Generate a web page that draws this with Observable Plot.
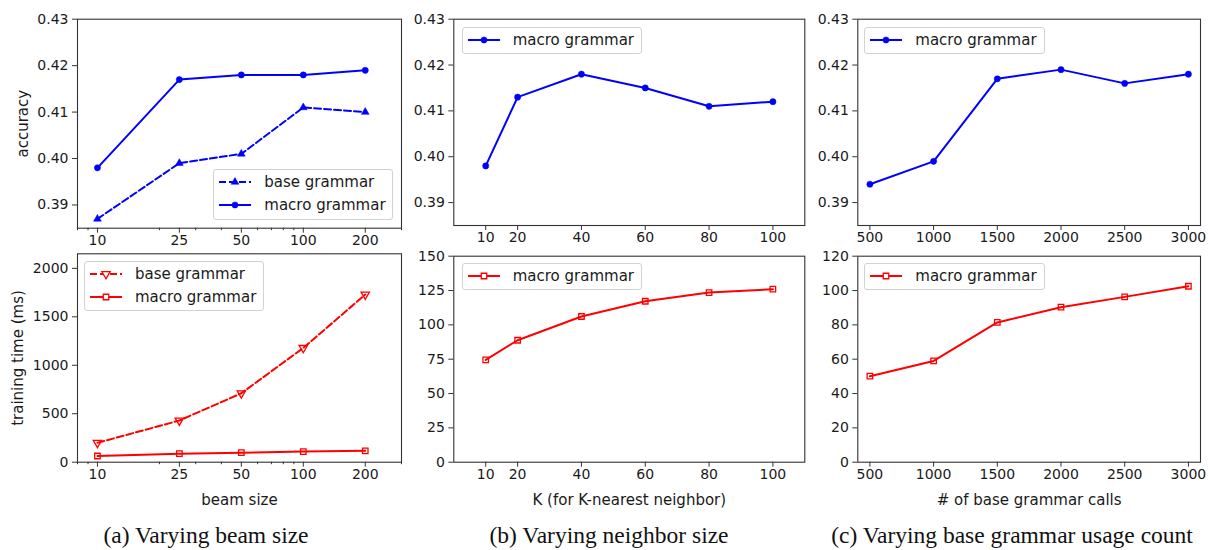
<!DOCTYPE html>
<html><head><meta charset="utf-8">
<script src="https://cdn.jsdelivr.net/npm/d3@7"></script>
<script src="https://cdn.jsdelivr.net/npm/@observablehq/plot@0.6"></script>
<style>
body{margin:0;background:#fff;}
#fig{position:relative;width:1208px;height:550px;overflow:hidden;background:#fff;font-family:"DejaVu Sans",sans-serif;}
.legend{position:absolute;box-sizing:border-box;border:1px solid #d2d2d2;border-radius:3px;background:rgba(255,255,255,0.8);font-size:15px;color:#1a1a1a;}
.legend .sample{position:absolute;left:4px;}
.legend .lab{position:absolute;left:50px;white-space:nowrap;line-height:18px;}
.caption{position:absolute;font-family:"Liberation Serif","Times New Roman",serif;font-size:23.5px;line-height:23.5px;white-space:nowrap;transform:translateX(-50%);color:#111;}
</style></head><body><div id="fig"></div><script>
// ---------- data ----------
const beamSizes = [10, 25, 50, 100, 200];
const beamAccBase = [0.387, 0.399, 0.401, 0.411, 0.410];
const beamAccMacro = [0.398, 0.417, 0.418, 0.418, 0.419];
const beamTimeBase = [200, 430, 711, 1179, 1729];
const beamTimeMacro = [64, 88, 98, 110, 117];

const neighborK = [10, 20, 40, 60, 80, 100];
const neighborAccMacro = [0.398, 0.413, 0.418, 0.415, 0.411, 0.412];
const neighborTimeMacro = [74.5, 88.8, 106.1, 117.2, 123.5, 126];

const baseCalls = [500, 1000, 1500, 2000, 2500, 3000];
const callsAccMacro = [0.394, 0.399, 0.417, 0.419, 0.416, 0.418];
const callsTimeMacro = [50.1, 59, 81.4, 90.3, 96.3, 102.5];

// ---------- tick labels ----------
const accTicks = [0.39, 0.40, 0.41, 0.42, 0.43];
const beamTimeTicks = [0, 500, 1000, 1500, 2000];
const neighborTimeTicks = [0, 25, 50, 75, 100, 125, 150];
const callsTimeTicks = [0, 20, 40, 60, 80, 100, 120];
const beamMinorTicks = [8, 9, 20, 30, 40, 60, 70, 80, 90, 300];
const captions = ["(a) Varying beam size", "(b) Varying neighbor size", "(c) Varying base grammar usage count"];

// ---------- styles ----------
const AXIS = "#333", BLUE = "#0000ff", RED = "#ff0000";
const W = 1208, H = 550;
const triangleDown = {
  draw(context, size) {
    const s3 = Math.sqrt(3);
    const y = -Math.sqrt(size / (s3 * 3));
    context.moveTo(0, -y * 2);
    context.lineTo(-s3 * y, y);
    context.lineTo(s3 * y, y);
    context.closePath();
  }
};
const STY = {
  macroAcc: {label: "macro grammar", color: BLUE, dash: null, symbol: "circle", d3sym: d3.symbolCircle, filled: true, r: 3.1},
  baseAcc: {label: "base grammar", color: BLUE, dash: "7,3", symbol: "triangle", d3sym: d3.symbolTriangle, filled: true, r: 2.9},
  macroTime: {label: "macro grammar", color: RED, dash: null, symbol: "square", d3sym: d3.symbolSquare, filled: false, r: 3.1},
  baseTime: {label: "base grammar", color: RED, dash: "7,3", symbol: triangleDown, d3sym: triangleDown, filled: false, r: 3.1}
};

const fig = document.getElementById("fig");

function seriesMarks(xs, ys, st) {
  const rows = xs.map((x, i) => ({x, y: ys[i]}));
  return [
    Plot.line(rows, {x: "x", y: "y", stroke: st.color, strokeWidth: 2, strokeDasharray: st.dash ?? undefined}),
    Plot.dot(rows, {x: "x", y: "y", r: st.r, symbol: st.symbol,
      fill: st.filled ? st.color : "none", stroke: st.color, strokeWidth: st.filled ? 0.5 : 1.3})
  ];
}

function panel(p) {
  const [x0, x1, y0, y1] = p.frame;
  const marks = [
    Plot.frame({stroke: AXIS, strokeWidth: 1.1}),
    Plot.axisY(p.yTicks, {tickSize: 5, tickPadding: 4, tickFormat: p.yFormat, label: null, fontSize: 14, stroke: AXIS}),
    Plot.axisX(p.xTicks, {ticks: 1000, tickSize: 5, tickPadding: 2, tickFormat: d3.format("d"), label: null, fontSize: 14, stroke: AXIS})
  ];
  if (p.xMinor) marks.push(Plot.axisX(p.xMinor, {tickSize: 2.5, tickFormat: () => "", fill: "none", label: null, stroke: AXIS}));
  if (p.yLabel) marks.push(Plot.axisY([], {tickSize: 0, label: p.yLabel, labelAnchor: "center", labelArrow: "none", labelOffset: p.yLabelOffset, fontSize: 15}));
  if (p.xLabel) marks.push(Plot.axisX([], {tickSize: 0, label: p.xLabel, labelAnchor: "center", labelArrow: "none", labelOffset: 43, fontSize: 15}));
  for (const s of p.series) marks.push(...seriesMarks(s[0], s[1], s[2]));
  const svg = Plot.plot({
    width: W, height: H,
    marginLeft: x0, marginRight: W - x1, marginTop: y0, marginBottom: H - y1,
    x: p.x, y: p.y,
    style: {background: "transparent", color: "#1a1a1a", fontFamily: "DejaVu Sans", overflow: "visible"},
    marks
  });
  svg.style.position = "absolute";
  svg.style.left = "0px";
  svg.style.top = "0px";
  svg.style.maxWidth = "none";
  fig.appendChild(svg);
}

function legend(left, top, width, height, entries) {
  const box = document.createElement("div");
  box.className = "legend";
  Object.assign(box.style, {left: left + "px", top: top + "px", width: width + "px", height: height + "px"});
  entries.forEach((st, i) => {
    const cy = (entries.length === 1 ? 13 : (i === 0 ? 12.5 : 35.7)) - 1;
    const s = d3.create("svg").attr("class", "sample").attr("width", 34).attr("height", 20)
      .style("top", (cy - 10) + "px");
    s.append("line").attr("x1", 1).attr("x2", 33).attr("y1", 10).attr("y2", 10)
      .attr("stroke", st.color).attr("stroke-width", 2).attr("stroke-dasharray", st.dash);
    s.append("path").attr("transform", "translate(17,10)")
      .attr("d", d3.symbol(st.d3sym, Math.PI * st.r * st.r)())
      .attr("fill", st.filled ? st.color : "white").attr("stroke", st.color).attr("stroke-width", st.filled ? 0.5 : 1.3);
    box.appendChild(s.node());
    const t = document.createElement("div");
    t.className = "lab";
    t.textContent = st.label;
    t.style.top = (cy - 9) + "px";
    box.appendChild(t);
  });
  fig.appendChild(box);
}

const fmtAcc = d3.format(".2f"), fmtInt = d3.format("d");

panel({frame: [77, 401, 18.7, 227.7], x: {type: "log", domain: [8, 300]}, y: {domain: [0.385, 0.43]},
  xTicks: beamSizes, xMinor: beamMinorTicks, yTicks: accTicks, yFormat: fmtAcc, yLabel: "accuracy", yLabelOffset: 60,
  series: [[beamSizes, beamAccBase, STY.baseAcc], [beamSizes, beamAccMacro, STY.macroAcc]]});
panel({frame: [77, 401, 253.3, 461.7], x: {type: "log", domain: [8, 300]}, y: {domain: [0, 2150]},
  xTicks: beamSizes, xMinor: beamMinorTicks, yTicks: beamTimeTicks, yFormat: fmtInt, yLabel: "training time (ms)", yLabelOffset: 65,
  xLabel: "beam size",
  series: [[beamSizes, beamTimeBase, STY.baseTime], [beamSizes, beamTimeMacro, STY.macroTime]]});
panel({frame: [453.3, 804.3, 18.7, 225], x: {domain: [0, 110]}, y: {domain: [0.385, 0.43]},
  xTicks: neighborK, yTicks: accTicks, yFormat: fmtAcc,
  series: [[neighborK, neighborAccMacro, STY.macroAcc]]});
panel({frame: [453.3, 804.3, 255.7, 461.7], x: {domain: [0, 110]}, y: {domain: [0, 150]},
  xTicks: neighborK, yTicks: neighborTimeTicks, yFormat: fmtInt, xLabel: "K (for K-nearest neighbor)",
  series: [[neighborK, neighborTimeMacro, STY.macroTime]]});
panel({frame: [857.3, 1200, 18.7, 225], x: {domain: [405, 3095]}, y: {domain: [0.385, 0.43]},
  xTicks: baseCalls, yTicks: accTicks, yFormat: fmtAcc,
  series: [[baseCalls, callsAccMacro, STY.macroAcc]]});
panel({frame: [857.3, 1200, 255.7, 461.7], x: {domain: [405, 3095]}, y: {domain: [0, 120]},
  xTicks: baseCalls, yTicks: callsTimeTicks, yFormat: fmtInt, xLabel: "# of base grammar calls",
  series: [[baseCalls, callsTimeMacro, STY.macroTime]]});

legend(213.3, 169, 180, 51, [STY.baseAcc, STY.macroAcc]);
legend(84, 261, 180, 50, [STY.baseTime, STY.macroTime]);
legend(461.7, 26.7, 180, 27, [STY.macroAcc]);
legend(461.7, 263.3, 180, 27, [STY.macroTime]);
legend(864.3, 26.7, 181, 27, [STY.macroAcc]);
legend(864.3, 263.3, 181, 27, [STY.macroTime]);

[206, 609, 1012].forEach((cx, i) => {
  const c = document.createElement("div");
  c.className = "caption";
  c.textContent = captions[i];
  c.style.left = cx + "px";
  c.style.top = "524px";
  fig.appendChild(c);
});
</script></body></html>
